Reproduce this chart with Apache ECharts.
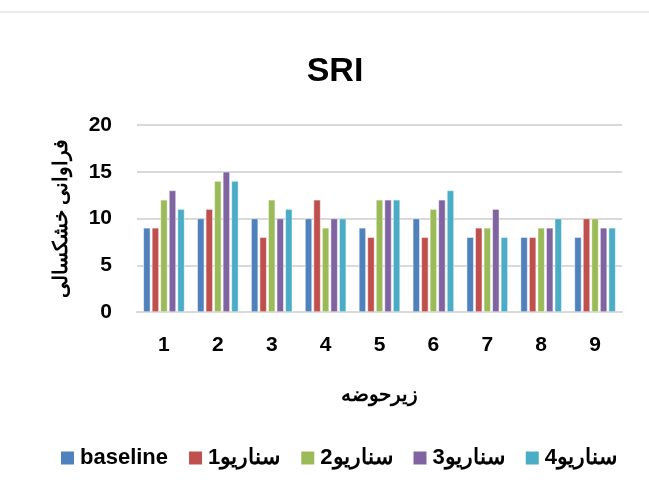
<!DOCTYPE html>
<html><head><meta charset="utf-8">
<script src="https://cdn.jsdelivr.net/npm/echarts@6/dist/echarts.min.js"></script>
<style>html,body{margin:0;padding:0;background:#fff}#c{width:649px;height:490px}</style>
</head><body><div id="c"></div>
<script>
const categories = ['1','2','3','4','5','6','7','8','9'];
const seriesNames = ['baseline','سناریو1','سناریو2','سناریو3','سناریو4'];
const baseline = [9,10,10,10,9,10,8,8,8];
const scenario1 = [9,11,8,12,8,8,9,8,10];
const scenario2 = [12,14,12,9,12,11,9,9,10];
const scenario3 = [13,15,10,10,12,12,11,9,9];
const scenario4 = [11,14,11,10,12,13,8,10,9];
const yTicks = [0,5,10,15,20];
const colors = ['#4F81BD','#C0504D','#9BBB59','#8064A2','#4BACC6'];
const values = [baseline, scenario1, scenario2, scenario3, scenario4];
const font = 'Liberation Sans, Arial, sans-serif';
const chart = echarts.init(document.getElementById('c'));
chart.setOption({
  animation:false,
  title:{text:'SRI',left:330,top:50,textAlign:'center',textStyle:{fontFamily:font,fontSize:34,fontWeight:'bold',color:'#000'}},
  graphic:[{type:'line',shape:{x1:0,y1:12,x2:649,y2:12},style:{stroke:'#d9d9d9',lineWidth:1}}],
  grid:{left:137,right:27,top:125,bottom:178},
  legend:{top:442,left:54,itemWidth:15,itemHeight:15,itemGap:19,icon:'rect',
    textStyle:{fontFamily:font,fontSize:22,fontWeight:'bold',color:'#000'},data:seriesNames},
  xAxis:{type:'category',data:categories,name:'زیرحوضه',nameLocation:'middle',nameGap:73,
    nameTextStyle:{fontFamily:font,fontSize:20,fontWeight:'bold',color:'#000'},
    axisLine:{lineStyle:{color:'#d9d9d9',width:2}},axisTick:{show:false},
    axisLabel:{fontFamily:font,fontSize:21,fontWeight:'bold',color:'#000',margin:23}},
  yAxis:{type:'value',min:yTicks[0],max:yTicks[yTicks.length-1],interval:5,
    name:'فراوانی خشکسالی',nameLocation:'middle',nameGap:66,nameRotate:90,
    nameTextStyle:{fontFamily:font,fontSize:20,fontWeight:'bold',color:'#000'},
    axisLine:{show:false},axisTick:{show:false},
    splitLine:{lineStyle:{color:'#d9d9d9',width:2}},
    axisLabel:{fontFamily:font,fontSize:21,fontWeight:'bold',color:'#000',margin:25}},
  series: seriesNames.map((n,i)=>({name:n,type:'bar',data:values[i],barWidth:7,barGap:'22%',
    itemStyle:{color:colors[i],borderColor:'#fff',borderWidth:0.5}}))
});
</script></body></html>
